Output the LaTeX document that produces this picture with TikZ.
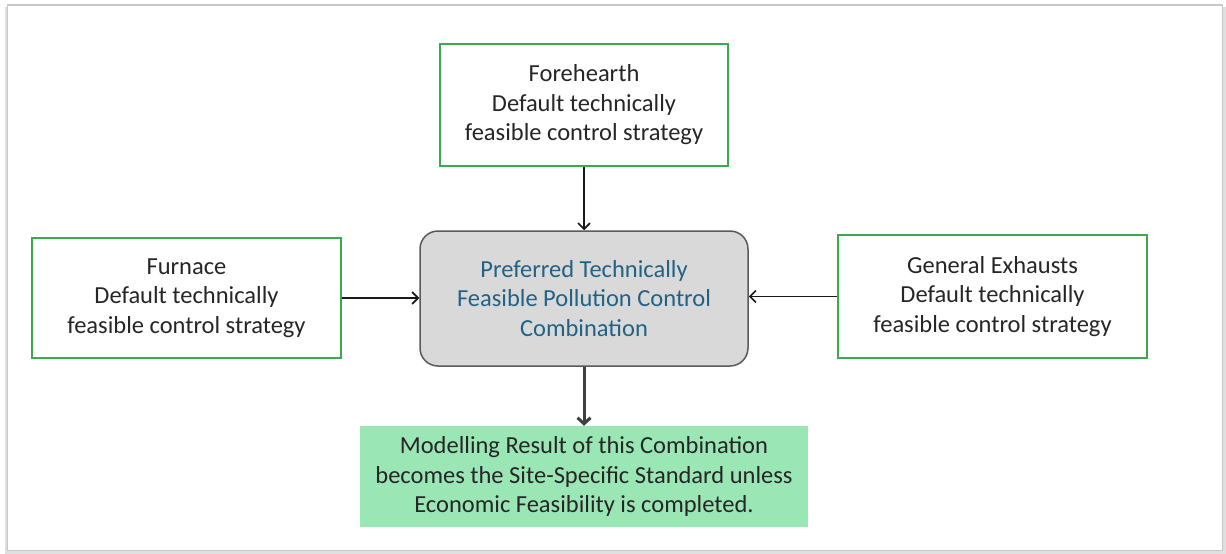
\documentclass[tikz,border=0pt]{standalone}
\usepackage{fontspec}
\setmainfont{Carlito}
\usetikzlibrary{arrows.meta}
\definecolor{boxgreen}{RGB}{60,168,80}
\definecolor{fillgreen}{RGB}{155,230,181}
\definecolor{centerfill}{RGB}{217,217,217}
\definecolor{centerdraw}{RGB}{90,90,90}
\definecolor{centertext}{RGB}{33,98,133}
\definecolor{frame}{RGB}{200,200,200}
\tikzset{
  srcbox/.style={draw=boxgreen, line width=2pt, fill=white, align=center, inner sep=0pt,
    font=\fontsize{24.5}{29.5}\selectfont, text=black!85},
  centerbox/.style={draw=centerdraw, line width=1.5pt, fill=centerfill, rounded corners=18pt,
    align=center, inner sep=0pt, font=\fontsize{24.5}{29.5}\selectfont, text=centertext,
    minimum width=328pt, minimum height=135pt},
  resultbox/.style={fill=fillgreen, align=center, inner sep=0pt,
    font=\fontsize{24.5}{29.5}\selectfont, text=black!85,
    minimum width=448pt, minimum height=101pt},
  conn/.style={line width=1.6pt, draw=black!90, -{Straight Barb[length=6pt,width=12pt]}},
  mainconn/.style={line width=3pt, draw=black!75, -{Straight Barb[length=6pt,width=13pt]}}
}
\begin{document}
\begin{tikzpicture}[x=1pt,y=-1pt]
\useasboundingbox (0,0) rectangle (1226,554);
% frame with soft shadow
\draw[line width=3pt, black!12] (6,7) -- (6,552) -- (1224,552) -- (1224,7);
\draw[line width=1.2pt, frame, fill=white] (7.5,5) rectangle (1222.5,550.5);

\node[srcbox, minimum width=288pt, minimum height=122pt] (fore) at (584,105)
  {Forehearth\\Default technically\\feasible control strategy};
\node[srcbox, minimum width=309pt, minimum height=120pt] (furn) at (186.5,298)
  {Furnace\\Default technically\\feasible control strategy};
\node[srcbox, minimum width=309pt, minimum height=123pt] (gen) at (992.5,296.5)
  {General Exhausts\\Default technically\\feasible control strategy};
\node[centerbox] (cent) at (584,298.5)
  {Preferred Technically\\Feasible Pollution Control\\Combination};
\node[resultbox] (res) at (584,476.5)
  {Modelling Result of this Combination\\becomes the Site-Specific Standard unless\\Economic Feasibility is completed.};

\draw[conn] (fore.south) -- (cent.north);
\draw[conn] (furn.east) -- (cent.west |- furn.east);
\draw[conn] (gen.west) -- (cent.east |- gen.west);
\draw[mainconn] (cent.south) -- (res.north);
\end{tikzpicture}
\end{document}
